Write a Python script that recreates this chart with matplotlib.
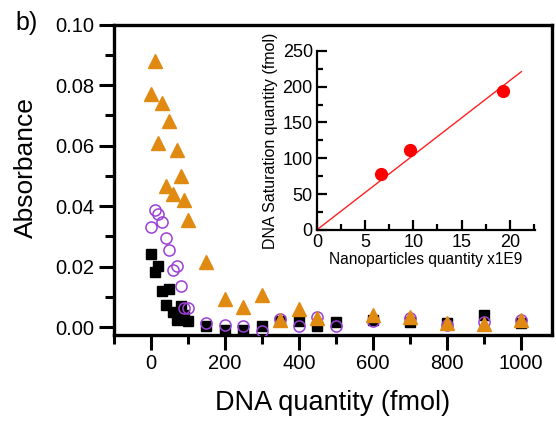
import matplotlib; matplotlib.use("Agg"); import matplotlib.pyplot as plt
from matplotlib.ticker import MultipleLocator
import numpy as np
plt.rcParams['font.family'] = ['Liberation Sans', 'DejaVu Sans']

# main panel: absorbance vs DNA quantity
tri_x = [0, 10, 20, 30, 40, 50, 60, 70, 80, 90, 100, 150, 200, 250, 300, 350, 400, 450, 600, 700, 800, 900, 1000]
tri_y = [0.077, 0.088, 0.061, 0.074, 0.0465, 0.068, 0.044, 0.0587, 0.050, 0.042, 0.0354, 0.0216, 0.0094,
         0.0066, 0.0107, 0.0025, 0.0059, 0.0030, 0.0039, 0.0033, 0.0014, 0.0011, 0.0022]
circ_x = [0, 10, 20, 30, 40, 50, 60, 70, 80, 90, 100, 150, 200, 250, 300, 350, 400, 450, 500, 600, 700, 800, 900, 1000]
circ_y = [0.033, 0.0388, 0.0373, 0.0346, 0.0296, 0.0255, 0.019, 0.0202, 0.0136, 0.0063, 0.0063, 0.0014, 0.0008,
          0.0002, -0.0013, 0.0026, 0.0002, 0.0033, 0.0002, 0.0019, 0.0030, 0.0008, 0.0017, 0.0022]
sq_x = [0, 10, 20, 30, 40, 50, 60, 70, 80, 90, 100, 150, 200, 250, 300, 350, 400, 450, 500, 600, 700, 800, 900, 1000]
sq_y = [0.024, 0.0183, 0.0202, 0.012, 0.0072, 0.0125, 0.005, 0.0022, 0.007, 0.0039, 0.0019, 0.0002, -0.0009,
        -0.0009, 0.0003, 0.0019, 0.0019, 0.0003, 0.0018, 0.0025, 0.0017, 0.0014, 0.0039, 0.0014]

# inset: saturation vs nanoparticles
np_x = [6.6, 9.65, 19.3]
sat_y = [78, 111, 194]
fit_x = [0, 21.2]
fit_y = [0, 221]

ORANGE = '#E08A12'; PURPLE = '#9B3FD6'

fig = plt.figure(figsize=(5.56, 4.24), dpi=100)
ax = fig.add_axes([0.205, 0.210, 0.788, 0.732])
ax.plot(sq_x, sq_y, 's', ms=7.5, mfc='black', mec='black', ls='none', zorder=3)
ax.plot(circ_x, circ_y, 'o', ms=8, mfc='none', mec=PURPLE, mew=1.1, ls='none', zorder=4)
ax.plot(tri_x, tri_y, '^', ms=10, mfc=ORANGE, mec=ORANGE, ls='none', zorder=5)
ax.set_xlim(-100, 1085); ax.set_ylim(-0.0026, 0.0998)
ax.xaxis.set_major_locator(MultipleLocator(200)); ax.xaxis.set_minor_locator(MultipleLocator(100))
ax.yaxis.set_major_locator(MultipleLocator(0.02)); ax.yaxis.set_minor_locator(MultipleLocator(0.01))
ax.set_yticks(np.arange(0, 0.101, 0.02)); ax.set_yticklabels([f"{v:.2f}" for v in np.arange(0, 0.101, 0.02)])
ax.set_xticks(np.arange(0, 1001, 200))
for s in ax.spines.values(): s.set_linewidth(2.4)
ax.tick_params(which='major', direction='out', length=11, width=2.2, labelsize=14.5, pad=3)
ax.tick_params(which='minor', direction='out', length=6.5, width=2.2)
ax.set_xlabel("DNA quantity (fmol)", fontsize=19.5, va='top')
ax.xaxis.set_label_coords(0.50, -0.176)
ax.set_ylabel("Absorbance", fontsize=19, va='bottom')
ax.yaxis.set_label_coords(-0.174, 0.54)
fig.text(0.027, 0.929, "b)", fontsize=18, va='baseline')

ins = fig.add_axes([0.570, 0.458, 0.392, 0.422])
ins.plot(fit_x, fit_y, '-', color='#FF2020', lw=1)
ins.plot(np_x, sat_y, 'o', ms=8.5, color='#FF0000', ls='none')
ins.set_xlim(0, 22.6); ins.set_ylim(0, 250)
ins.xaxis.set_major_locator(MultipleLocator(5)); ins.xaxis.set_minor_locator(MultipleLocator(2.5))
ins.yaxis.set_major_locator(MultipleLocator(50)); ins.yaxis.set_minor_locator(MultipleLocator(25))
ins.spines['top'].set_visible(False); ins.spines['right'].set_visible(False)
for s in ('left', 'bottom'): ins.spines[s].set_linewidth(1.6)
ins.tick_params(which='major', direction='in', length=7, width=1.6, labelsize=13, pad=3)
ins.tick_params(which='minor', direction='in', length=4, width=1.6)
ins.set_xlabel("Nanoparticles quantity x1E9", fontsize=11.2, labelpad=1)
ins.set_ylabel("DNA Saturation quantity (fmol)", fontsize=11.5, labelpad=3)
ins.patch.set_alpha(0)

fig.savefig("out.png", dpi=100, facecolor='white')
